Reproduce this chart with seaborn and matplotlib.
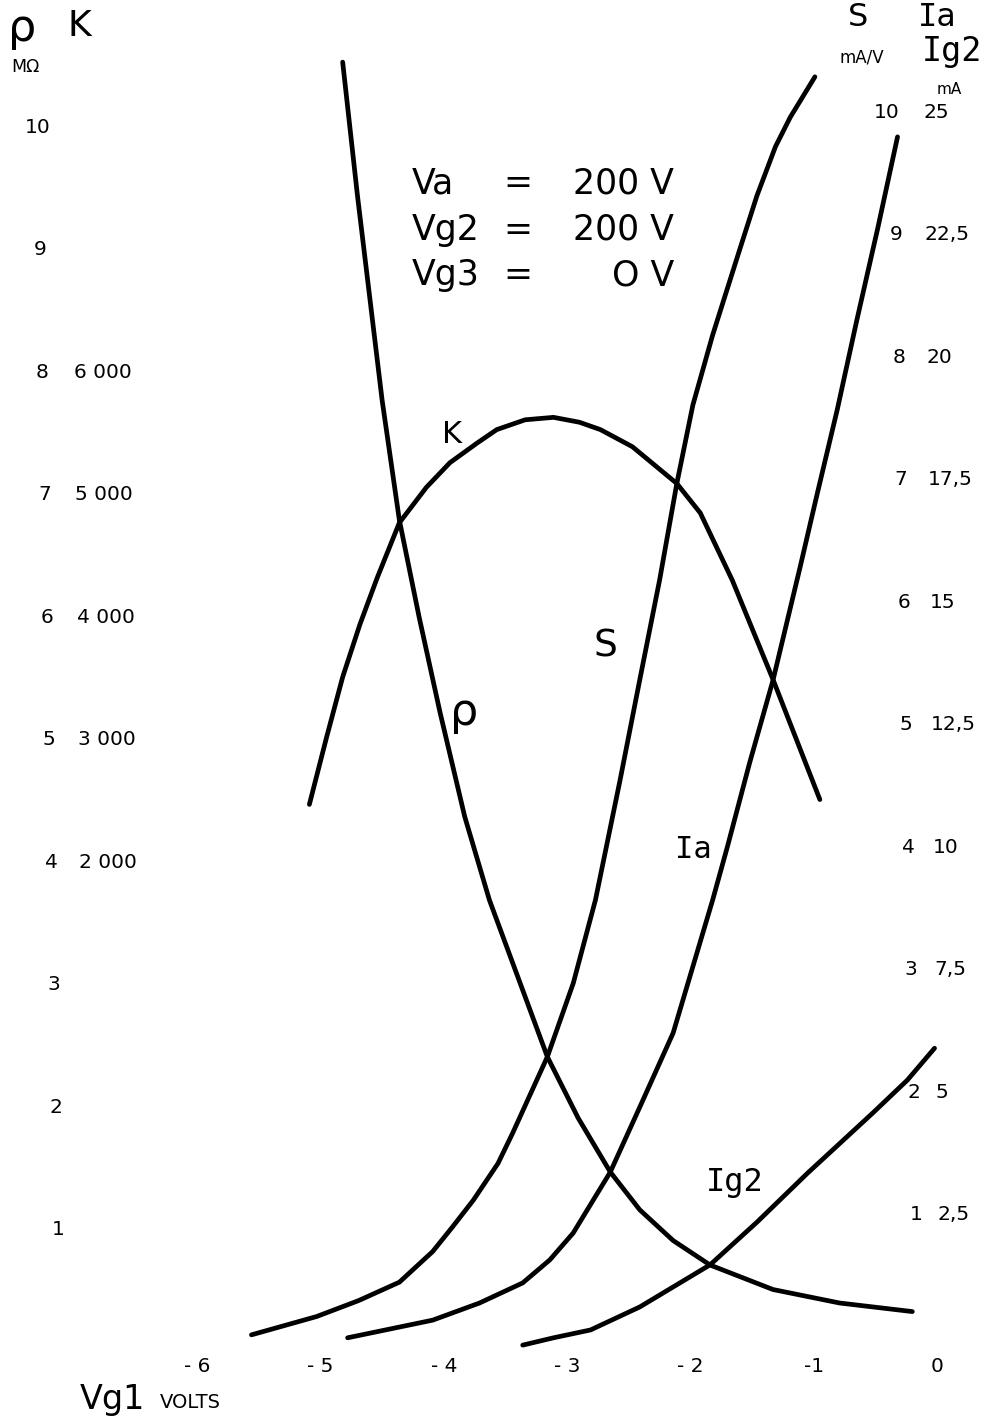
import matplotlib
matplotlib.use("Agg")
import matplotlib.pyplot as plt
import seaborn as sns

# grid voltage Vg1 (V) and read-off values for each curve
rho_vg1 = [-4.82, -4.70, -4.50, -4.36, -4.20, -4.03, -3.83, -3.63, -3.16, -2.91, -2.65, -2.41, -2.14, -1.84, -1.33, -0.79, -0.20]
rho_mohm = [10.53, 9.44, 7.77, 6.79, 6.00, 5.22, 4.37, 3.69, 2.41, 1.91, 1.47, 1.16, 0.91, 0.71, 0.51, 0.40, 0.33]

k_vg1 = [-5.09, -4.95, -4.82, -4.68, -4.54, -4.36, -4.14, -3.95, -3.73, -3.57, -3.34, -3.11, -2.90, -2.73, -2.47, -2.11, -1.92, -1.66, -1.33, -0.95]
k_gain = [2470, 3020, 3510, 3940, 4320, 4770, 5060, 5260, 5420, 5530, 5610, 5630, 5590, 5530, 5390, 5090, 4850, 4300, 3490, 2510]

s_vg1 = [-5.56, -5.03, -4.69, -4.36, -4.09, -3.93, -3.76, -3.56, -3.44, -3.16, -2.95, -2.77, -2.57, -2.41, -2.25, -2.11, -1.98, -1.82, -1.60, -1.46, -1.31, -1.19, -0.99]
s_mav = [0.14, 0.29, 0.42, 0.57, 0.82, 1.02, 1.24, 1.54, 1.79, 2.41, 3.01, 3.69, 4.67, 5.49, 6.30, 7.09, 7.73, 8.30, 9.00, 9.44, 9.84, 10.08, 10.41]

ia_vg1 = [-4.78, -4.09, -3.71, -3.36, -3.14, -2.95, -2.65, -2.41, -2.14, -1.82, -1.70, -1.52, -1.33, -1.11, -0.97, -0.81, -0.65, -0.48, -0.32]
ia_ma = [0.29, 0.65, 1.00, 1.41, 1.88, 2.43, 3.67, 5.00, 6.51, 9.22, 10.31, 12.02, 13.71, 16.02, 17.53, 19.22, 21.06, 22.94, 24.80]

ig2_vg1 = [-3.36, -3.11, -2.81, -2.41, -1.84, -1.46, -1.05, -0.52, -0.24, -0.02]
ig2_ma = [0.14, 0.29, 0.45, 0.92, 1.78, 2.65, 3.65, 4.88, 5.55, 6.20]

# scale labels
rho_ticks = [10, 9, 8, 7, 6, 5, 4, 3, 2, 1]
k_ticks = [6000, 5000, 4000, 3000, 2000]
k_labels = ["6 000", "5 000", "4 000", "3 000", "2 000"]
s_ticks = [10, 9, 8, 7, 6, 5, 4, 3, 2, 1]
ia_labels = ["25", "22,5", "20", "17,5", "15", "12,5", "10", "7,5", "5", "2,5"]
vg1_ticks = [-6, -5, -4, -3, -2, -1, 0]
vg1_labels = ["- 6", "- 5", "- 4", "- 3", "- 2", "-1", "0"]

sns.set_style("white")
plt.rcParams["font.family"] = ["DejaVu Sans"]
plt.rcParams["text.color"] = "black"

W, H = 996, 1422
fig = plt.figure(figsize=(W / 100, H / 100), dpi=100)
ax = fig.add_axes([0, 0, 1, 1])

# main axis: rho (MOhm) and S (mA/V) share the 0..10 scale
y_lo, y_hi = -0.5714, 11.037
ax.set_xlim(-7.599, 0.4785)
# K axis: 1000 per division, offset by 2 divisions
ax_k = ax.twinx()
# current axis: 2.5 mA per division
ax_i = ax.twinx()

line_kw = dict(color="black", linewidth=3.4, sort=False, solid_capstyle="round", solid_joinstyle="round")
sns.lineplot(x=rho_vg1, y=rho_mohm, ax=ax, **line_kw)
sns.lineplot(x=s_vg1, y=s_mav, ax=ax, **line_kw)
sns.lineplot(x=k_vg1, y=k_gain, ax=ax_k, **line_kw)
sns.lineplot(x=ia_vg1, y=ia_ma, ax=ax_i, **line_kw)
sns.lineplot(x=ig2_vg1, y=ig2_ma, ax=ax_i, **line_kw)

ax.set_xlim(-7.599, 0.4785)
ax.set_ylim(y_lo, y_hi)
ax_k.set_ylim((y_lo - 2) * 1000, (y_hi - 2) * 1000)
ax_i.set_ylim(y_lo * 2.5, y_hi * 2.5)
for a in (ax, ax_k, ax_i):
    a.axis("off")


def fx(px):
    return px / W


def fy(py):
    return 1 - py / H


tick_fs = 14.5

# left scales
for v in rho_ticks:
    ax.text(fx(38 + (10 - v) * 2.2), v, str(v), transform=ax.get_yaxis_transform(),
            ha="center", va="center", fontsize=tick_fs)
for i, v in enumerate(k_ticks):
    ax_k.text(fx(132 + i * 1.2), v, k_labels[i], transform=ax_k.get_yaxis_transform(),
              ha="right", va="center", fontsize=tick_fs)

# right scales (printed a little higher than the left ones)
for i, v in enumerate(s_ticks):
    ax.text(fx(900 + (10 - v) * 2.5), v + 0.12, str(v), transform=ax.get_yaxis_transform(),
            ha="right", va="center", fontsize=tick_fs)
    ax.text(fx(923 + (10 - v) * 1.6), v + 0.12, ia_labels[i], transform=ax.get_yaxis_transform(),
            ha="left", va="center", fontsize=tick_fs)

# x scale
for v, lab in zip(vg1_ticks, vg1_labels):
    ax.text(v, fy(1367), lab, transform=ax.get_xaxis_transform(),
            ha="center", va="center", fontsize=tick_fs)

# headers
fig.text(fx(8), fy(28), "ρ", fontsize=32, ha="left", va="center")
fig.text(fx(79), fy(26), "K", fontsize=26, ha="center", va="center")
fig.text(fx(25), fy(67), "MΩ", fontsize=12.5, ha="center", va="center")
fig.text(fx(858), fy(18), "S", fontsize=23, ha="center", va="center")
fig.text(fx(862), fy(57), "mA/V", fontsize=12, ha="center", va="center")
fig.text(fx(937), fy(18), "Ia", fontsize=23, ha="center", va="center", family="DejaVu Sans Mono")
fig.text(fx(952), fy(52), "Ig2", fontsize=24, ha="center", va="center", family="DejaVu Sans Mono")
fig.text(fx(949), fy(89), "mA", fontsize=11, ha="center", va="center")
fig.text(fx(80), fy(1400), "Vg1", fontsize=24, ha="left", va="center")
fig.text(fx(160), fy(1402), "VOLTS", fontsize=14, ha="left", va="center")

# operating conditions
cond_fs = 25
rows = [("Va", "200 V", 183), ("Vg2", "200 V", 230), ("Vg3", "O V", 275)]
for left, right, py in rows:
    fig.text(fx(412), fy(py), left, fontsize=cond_fs, ha="left", va="center")
    fig.text(fx(518), fy(py), "=", fontsize=cond_fs, ha="center", va="center")
    fig.text(fx(674), fy(py), right, fontsize=cond_fs, ha="right", va="center")

# curve names
fig.text(fx(452), fy(435), "K", fontsize=22, ha="center", va="center")
fig.text(fx(605), fy(647), "S", fontsize=27, ha="center", va="center")
fig.text(fx(464), fy(712), "ρ", fontsize=32, ha="center", va="center")
fig.text(fx(693), fy(850), "Ia", fontsize=22, ha="center", va="center", family="DejaVu Sans Mono")
fig.text(fx(735), fy(1183), "Ig2", fontsize=23, ha="center", va="center", family="DejaVu Sans Mono")

fig.savefig("out.png", dpi=100, facecolor="white")
